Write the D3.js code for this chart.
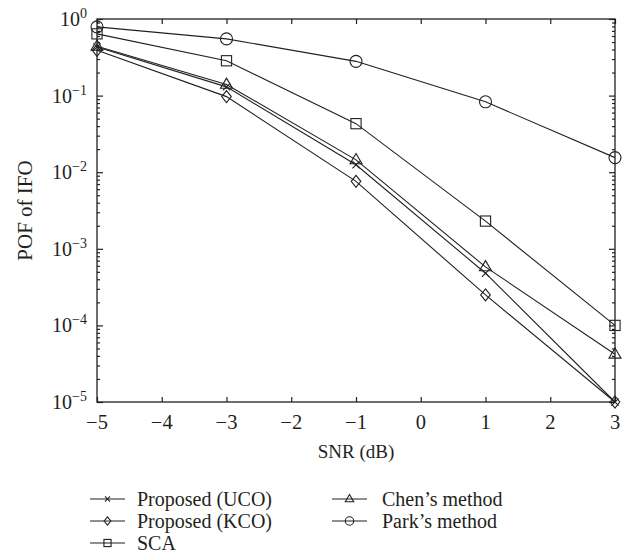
<!DOCTYPE html>
<html>
<head>
<meta charset="utf-8">
<script src="https://cdn.jsdelivr.net/npm/d3@7"></script>
<style>
  html, body { margin: 0; padding: 0; background: #fff; }
  svg text { font-family: "Liberation Serif", "DejaVu Serif", serif; fill: #231f20; }
</style>
</head>
<body>
<svg id="chart" width="633" height="559"></svg>
<script>
const snr = [-5, -3, -1, 1, 3];
const seriesNames = ["Proposed (UCO)", "Proposed (KCO)", "SCA", "Chen\u2019s method", "Park\u2019s method"];
const seriesMarkers = ["x", "diamond", "square", "triangle", "circle"];
const uco = [0.43, 0.13, 0.0125, 0.00048, 0.00001];
const kco = [0.39, 0.097, 0.0076, 0.00025, 0.00001];
const sca = [0.64, 0.285, 0.043, 0.0023, 0.0001];
const chen = [0.44, 0.14, 0.0145, 0.00058, 0.000042];
const park = [0.79, 0.55, 0.28, 0.083, 0.0155];
const xTicks = [-5, -4, -3, -2, -1, 0, 1, 2, 3];
const yTicks = [1, 0.1, 0.01, 0.001, 0.0001, 0.00001];
const yTickExps = ["0", "\u22121", "\u22122", "\u22123", "\u22124", "\u22125"];
const xLabel = "SNR (dB)";
const yLabel = "POF of IFO";

const allSeries = [uco, kco, sca, chen, park];

const svg = d3.select("#chart");
const L = 97, R = 615, T = 19, B = 402;
const x = d3.scaleLinear().domain([-5, 3]).range([L, R]);
const y = d3.scaleLog().domain([1e-5, 1]).range([B, T]);
const ink = "#231f20";

const minor = [];
for (let e = -5; e < 0; e++) for (let m = 2; m <= 9; m++) minor.push(m * Math.pow(10, e));

const g = svg.append("g");

const axB = d3.axisBottom(x).tickValues(xTicks).tickSize(-5).tickFormat("");
const axT = d3.axisTop(x).tickValues(xTicks).tickSize(-5).tickFormat("");
const axL = d3.axisLeft(y).tickValues(yTicks).tickSize(-6).tickFormat("");
const axR = d3.axisRight(y).tickValues(yTicks).tickSize(-6).tickFormat("");
const axLm = d3.axisLeft(y).tickValues(minor).tickSize(-3).tickFormat("");
const axRm = d3.axisRight(y).tickValues(minor).tickSize(-3).tickFormat("");

function styleAxis(sel) {
  sel.selectAll("path.domain").remove();
  sel.selectAll("line").attr("stroke", ink).attr("stroke-width", 1.2);
}
g.append("g").attr("transform", `translate(0,${B})`).call(axB).call(styleAxis);
g.append("g").attr("transform", `translate(0,${T})`).call(axT).call(styleAxis);
g.append("g").attr("transform", `translate(${L},0)`).call(axL).call(styleAxis);
g.append("g").attr("transform", `translate(${R},0)`).call(axR).call(styleAxis);
g.append("g").attr("transform", `translate(${L},0)`).call(axLm).call(styleAxis);
g.append("g").attr("transform", `translate(${R},0)`).call(axRm).call(styleAxis);

g.append("rect").attr("x", L).attr("y", T).attr("width", R - L).attr("height", B - T)
  .attr("fill", "none").attr("stroke", ink).attr("stroke-width", 1.3);

g.selectAll("text.xt").data(xTicks).enter().append("text")
  .attr("class", "xt")
  .attr("x", d => x(d)).attr("y", B + 27)
  .attr("text-anchor", "middle").attr("font-size", 20.5)
  .text(d => d < 0 ? "\u2212" + Math.abs(d) : String(d));

yTicks.forEach((v, i) => {
  const t = g.append("text").attr("x", L - 10).attr("y", y(v) + 7)
    .attr("text-anchor", "end").attr("font-size", 20);
  t.append("tspan").text("10");
  t.append("tspan").attr("font-size", 14).attr("dy", -8).text(yTickExps[i]);
});

g.append("text").attr("x", (L + R) / 2).attr("y", 458).attr("text-anchor", "middle")
  .attr("font-size", 19).text(xLabel);
g.append("text").attr("transform", `translate(32,${(T + B) / 2}) rotate(-90)`)
  .attr("text-anchor", "middle").attr("font-size", 21).text(yLabel);

function drawMarker(sel, type, cx, cy, s) {
  let el;
  if (type === "circle") {
    el = sel.append("circle").attr("cx", cx).attr("cy", cy).attr("r", s);
  } else if (type === "square") {
    el = sel.append("rect").attr("x", cx - s * 0.85).attr("y", cy - s * 0.85)
      .attr("width", s * 1.7).attr("height", s * 1.7);
  } else if (type === "diamond") {
    el = sel.append("path").attr("d", `M${cx},${cy - s}L${cx + s * 0.8},${cy}L${cx},${cy + s}L${cx - s * 0.8},${cy}Z`);
  } else if (type === "triangle") {
    el = sel.append("path").attr("d", `M${cx},${cy - s * 1.05}L${cx + s},${cy + s * 0.65}L${cx - s},${cy + s * 0.65}Z`);
  } else {
    const k = s * 0.6;
    el = sel.append("path").attr("d", `M${cx - k},${cy - k}L${cx + k},${cy + k}M${cx - k},${cy + k}L${cx + k},${cy - k}`);
  }
  el.attr("fill", "none").attr("stroke", ink).attr("stroke-width", 1.1);
}

const line = d3.line().x((d, i) => x(snr[i])).y(d => y(d));
allSeries.forEach((vals, si) => {
  const sg = g.append("g");
  sg.append("path").attr("d", line(vals)).attr("fill", "none")
    .attr("stroke", ink).attr("stroke-width", 1.1);
  vals.forEach((v, i) => drawMarker(sg, seriesMarkers[si], x(snr[i]), y(v), 6));
});

const legPos = [
  { lx: 90, tx: 137, y: 499 },
  { lx: 90, tx: 137, y: 521 },
  { lx: 90, tx: 137, y: 543 },
  { lx: 332, tx: 382, y: 499 },
  { lx: 332, tx: 382, y: 521 }
];
seriesNames.forEach((name, i) => {
  const p = legPos[i];
  const lw = 35;
  g.append("line").attr("x1", p.lx).attr("x2", p.lx + lw).attr("y1", p.y).attr("y2", p.y)
    .attr("stroke", ink).attr("stroke-width", 1.1);
  drawMarker(g, seriesMarkers[i], p.lx + lw / 2, p.y, 4.2);
  g.append("text").attr("x", p.tx).attr("y", p.y + 6.5).attr("font-size", 20)
    .attr("textLength", name.length > 5 ? null : null).text(name);
});
</script>
</body>
</html>
